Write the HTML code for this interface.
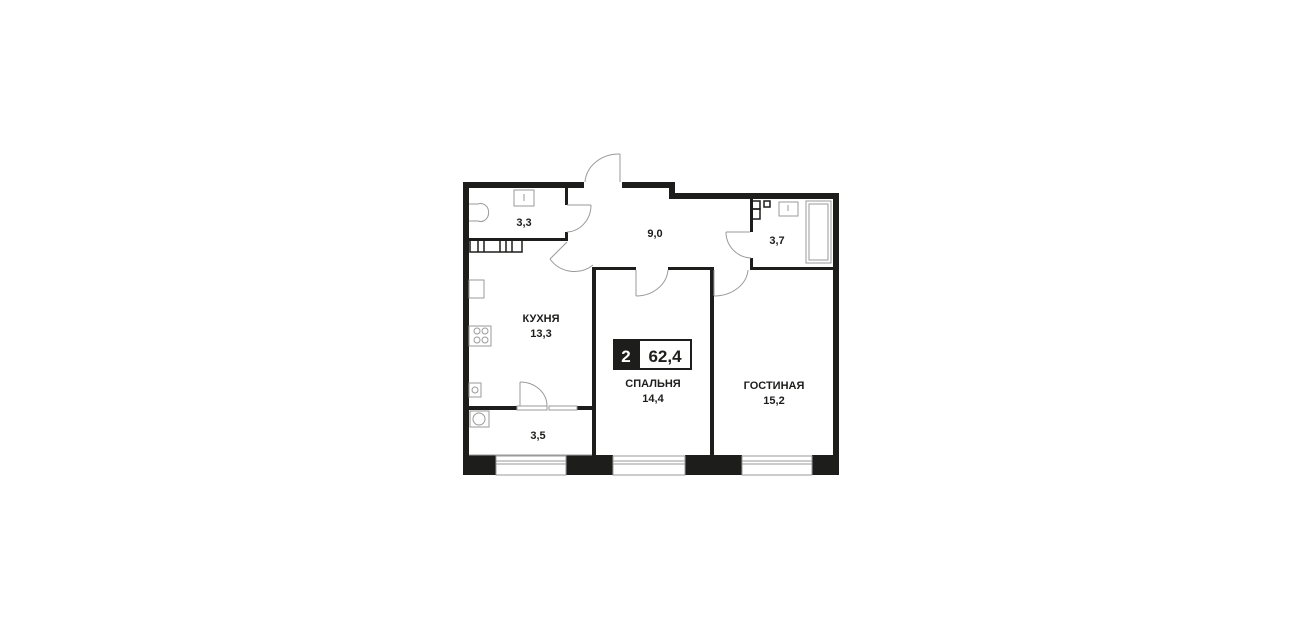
<!DOCTYPE html>
<html><head><meta charset="utf-8"><style>
html,body{margin:0;padding:0;background:#fff;}
svg{display:block;}
text{font-family:"Liberation Sans",sans-serif;font-weight:bold;fill:#1d1d1b;text-anchor:middle;}
</style></head><body>
<svg width="1301" height="630" viewBox="0 0 1301 630" xmlns="http://www.w3.org/2000/svg">
<g fill="#1d1d1b">
<!-- outer walls -->
<rect x="463" y="182" width="121" height="6"/>
<rect x="622" y="182" width="53" height="6"/>
<rect x="669" y="182" width="6" height="17"/>
<rect x="669" y="193" width="170" height="6"/>
<rect x="463" y="182" width="6" height="293"/>
<rect x="833" y="193" width="6" height="282"/>
<!-- WC walls -->
<rect x="565" y="188" width="3" height="17"/>
<rect x="565" y="232" width="3" height="9"/>
<rect x="469" y="238" width="99" height="3"/>
<!-- kitchen/bedroom partition -->
<rect x="592" y="267" width="4" height="190"/>
<rect x="592" y="267" width="44" height="3"/>
<rect x="668" y="267" width="46" height="3"/>
<rect x="710" y="267" width="4" height="190"/>
<!-- bathroom walls -->
<rect x="750" y="199" width="3" height="33"/>
<rect x="750" y="258" width="3" height="12"/>
<rect x="750" y="267" width="83" height="3"/>
<!-- kitchen/balcony -->
<rect x="469" y="406" width="48" height="4"/>
<rect x="577" y="406" width="15" height="4"/>
<!-- bottom blocks -->
<rect x="463" y="455" width="33" height="20"/>
<rect x="566" y="455" width="47" height="20"/>
<rect x="685" y="455" width="57" height="20"/>
<rect x="812" y="455" width="27" height="20"/>
</g>
<g fill="none" stroke="#1d1d1b" stroke-width="1.5">
<!-- storage boxes -->
<rect x="470" y="239" width="52" height="13"/>
<line x1="478" y1="239" x2="478" y2="252"/><line x1="484" y1="239" x2="484" y2="252"/>
<line x1="500" y1="239" x2="500" y2="252"/><line x1="506" y1="239" x2="506" y2="252"/>
<line x1="512" y1="239" x2="512" y2="252"/>
<!-- bath shelf boxes -->
<rect x="752" y="201" width="8" height="8"/><rect x="752" y="209" width="8" height="10"/>
<rect x="764" y="201" width="6" height="6"/>
</g>
<g fill="none" stroke="#9a9a9a" stroke-width="1">
<!-- windows -->
<rect x="496" y="456" width="70" height="19"/><line x1="496" y1="461" x2="566" y2="461"/><line x1="496" y1="464" x2="566" y2="464"/>
<rect x="613" y="456" width="72" height="19"/><line x1="613" y1="461" x2="685" y2="461"/><line x1="613" y1="464" x2="685" y2="464"/>
<rect x="742" y="456" width="70" height="19"/><line x1="742" y1="461" x2="812" y2="461"/><line x1="742" y1="464" x2="812" y2="464"/>
<!-- balcony inner -->
<line x1="469" y1="455" x2="592" y2="455"/>
<!-- doors -->
<line x1="620" y1="182" x2="620" y2="154"/><path d="M620 154 A34 30 0 0 0 585 182"/>
<line x1="567" y1="205" x2="591" y2="205"/><path d="M591 205 A25 27 0 0 1 567 232"/>
<line x1="567" y1="242" x2="550" y2="259"/><path d="M550 259 A30 30 0 0 0 593 265"/>
<line x1="636" y1="270" x2="636" y2="296"/><path d="M636 296 A32 28 0 0 0 668 270"/>
<line x1="714" y1="270" x2="714" y2="296"/><path d="M714 296 A34 28 0 0 0 748 270"/>
<line x1="750" y1="232" x2="726" y2="232"/><path d="M726 232 A26 26 0 0 0 751 258"/>
<line x1="520" y1="406" x2="520" y2="382"/><path d="M520 382 A27 24 0 0 1 547 406"/>
<rect x="517" y="406" width="30" height="4"/><rect x="549" y="406" width="28" height="4"/>
<!-- fixtures -->
<rect x="514" y="190" width="20" height="16"/><line x1="524" y1="194" x2="524" y2="201"/>
<path d="M469 204 h9 a8 9 0 1 1 0 17 h-9"/>
<rect x="469" y="280" width="15" height="18"/>
<rect x="469" y="326" width="22" height="20"/>
<circle cx="477" cy="331" r="3"/><circle cx="485" cy="331" r="3"/><circle cx="477" cy="340" r="3"/><circle cx="485" cy="340" r="3"/>
<rect x="469" y="383" width="12" height="14"/><circle cx="475" cy="390" r="3"/>
<rect x="470" y="411" width="19" height="16"/><circle cx="479" cy="419" r="6"/>
<rect x="779" y="202" width="19" height="14"/><line x1="788" y1="205" x2="788" y2="211"/>
<rect x="806" y="201" width="25" height="62"/><rect x="809" y="204" width="19" height="56"/>
</g>
<!-- area badge -->
<rect x="613" y="339" width="79" height="31" fill="#1d1d1b"/>
<rect x="640" y="341" width="50" height="27" fill="#fff"/>
<text x="626" y="362" style="fill:#fff;font-size:17px">2</text>
<text x="665" y="362" style="font-size:17px">62,4</text>
<g style="font-size:11px">
<text x="524" y="226">3,3</text>
<text x="655" y="237">9,0</text>
<text x="777" y="244">3,7</text>
<text x="541" y="322">КУХНЯ</text>
<text x="541" y="337">13,3</text>
<text x="653" y="387">СПАЛЬНЯ</text>
<text x="653" y="402">14,4</text>
<text x="774" y="389">ГОСТИНАЯ</text>
<text x="774" y="404">15,2</text>
<text x="538" y="439">3,5</text>
</g>
</svg>
</body></html>
